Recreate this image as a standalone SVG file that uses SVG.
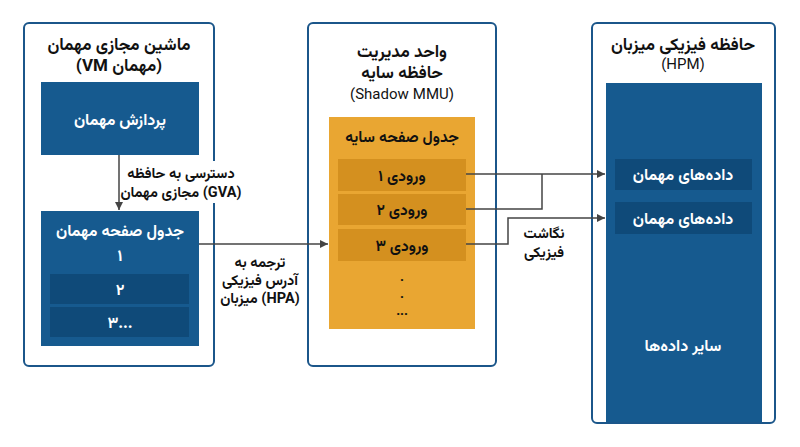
<svg xmlns="http://www.w3.org/2000/svg" width="800" height="447" viewBox="0 0 800 447">
<defs>
<style>
.cont{fill:#ffffff;stroke:#1b568a;stroke-width:2}
.blue{fill:#165a8f}
.dblue{fill:#0f4a79}
.orange{fill:#e9a632}
.dorange{fill:#d4901f}
.t{font-family:"Vazirmatn","Noto Sans Arabic","DejaVu Sans",sans-serif;font-weight:bold;text-anchor:middle}
.ttl{font-size:17px;fill:#111111}
.lat{font-size:15px;font-weight:normal}
.lbl{font-size:14.5px;fill:#111111}
.w{font-size:16px;fill:#ffffff}
.k{font-size:15.5px;fill:#111111}
.dot{font-size:13px;fill:#111111}
.conn{fill:none;stroke:#444444;stroke-width:1.5}
</style>
<marker id="arr" viewBox="0 0 8 8" refX="8" refY="4" markerWidth="8" markerHeight="8" markerUnits="userSpaceOnUse" orient="auto">
<path d="M0,0 L8,4 L0,8 z" fill="#444444"/>
</marker>
</defs>
<rect width="800" height="447" fill="#ffffff"/>

<g id="guest-vm">
<rect class="cont" x="24" y="23" width="190" height="343" rx="5"/>
<text class="t ttl" x="119" y="50">ماشین مجازی مهمان</text>
<text class="t ttl" x="119" y="71">(VM مهمان)</text>
</g>
<g id="guest-process">
<rect class="blue" x="41" y="82" width="158" height="73"/>
<text class="t w" x="120" y="125">پردازش مهمان</text>
</g>
<g id="guest-page-table">
<rect class="blue" x="41" y="211" width="158" height="135"/>
<text class="t w" x="120" y="236">جدول صفحه مهمان</text>
<text class="t w" x="120" y="261">۱</text>
<rect class="dblue" x="50" y="274" width="139" height="30"/>
<text class="t w" x="120" y="295">۲</text>
<rect class="dblue" x="50" y="307" width="139" height="30"/>
<text class="t w" x="120" y="328">۳...</text>
</g>

<g id="shadow-mmu">
<rect class="cont" x="308" y="23" width="188" height="343" rx="5"/>
<text class="t ttl" x="402" y="57">واحد مدیریت</text>
<text class="t ttl" x="402" y="78">حافظه سایه</text>
<text class="t ttl lat" x="402" y="99">(Shadow MMU)</text>
</g>
<g id="shadow-page-table">
<rect class="orange" x="329" y="117" width="146" height="212"/>
<text class="t k" x="402" y="142">جدول صفحه سایه</text>
<rect class="dorange" x="338" y="159" width="128" height="32"/>
<text class="t k" x="402" y="181">ورودی ۱</text>
<rect class="dorange" x="338" y="194" width="128" height="31"/>
<text class="t k" x="402" y="215">ورودی ۲</text>
<rect class="dorange" x="338" y="229" width="128" height="32"/>
<text class="t k" x="402" y="251">ورودی ۳</text>
<text class="t dot" x="402" y="281">.</text>
<text class="t dot" x="402" y="298">.</text>
<text class="t dot" x="402" y="315">...</text>
</g>

<g id="host-physical-memory">
<rect class="cont" x="592" y="23" width="183" height="400" rx="5"/>
<text class="t ttl" x="683" y="50">حافظه فیزیکی میزبان</text>
<text class="t ttl lat" x="683" y="69">(HPM)</text>
<rect class="blue" x="606" y="83" width="156" height="339"/>
<text class="t w" x="683" y="351">سایر داده‌ها</text>
</g>
<g id="guest-data-1">
<rect class="dblue" x="615" y="159" width="137" height="31"/>
<text class="t w" x="683" y="180">داده‌های مهمان</text>
</g>
<g id="guest-data-2">
<rect class="dblue" x="615" y="202" width="137" height="32"/>
<text class="t w" x="683" y="224">داده‌های مهمان</text>
</g>

<g id="connectors">
<rect x="124" y="161" width="118" height="42" fill="#ffffff"/>
<path class="conn" d="M119,155 V210" marker-end="url(#arr)"/>
<text class="t lbl" x="181" y="178">دسترسی به حافظه</text>
<text class="t lbl" x="181" y="197">مجازی مهمان (GVA)</text>
<path class="conn" d="M199,244 H328" marker-end="url(#arr)"/>
<text class="t lbl" x="260" y="267">ترجمه به</text>
<text class="t lbl" x="260" y="285">آدرس فیزیکی</text>
<text class="t lbl" x="260" y="303">میزبان (HPA)</text>
<path class="conn" d="M466,174 H605" marker-end="url(#arr)"/>
<path class="conn" d="M466,209 H542 V174"/>
<path class="conn" d="M466,244 H508 V218 H605" marker-end="url(#arr)"/>
<text class="t lbl" x="544" y="238">نگاشت</text>
<text class="t lbl" x="544" y="257">فیزیکی</text>
</g>
</svg>
